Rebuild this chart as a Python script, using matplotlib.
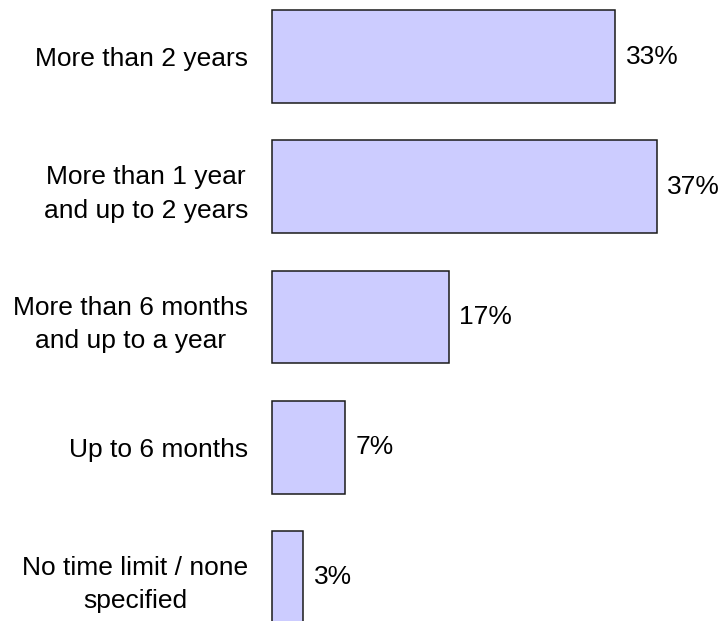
import matplotlib.pyplot as plt
import matplotlib.transforms as mtransforms

# Data
categories = ['More than 2 years',
              'More than 1 year\nand up to 2 years',
              'More than 6 months\nand up to a year',
              'Up to 6 months',
              'No time limit / none\nspecified']
values = [33, 37, 17, 7, 3]
value_labels = ['33%', '37%', '17%', '7%', '3%']

plt.rcParams['font.family'] = ['Liberation Sans', 'DejaVu Sans']

fig = plt.figure(figsize=(7.25, 6.21), dpi=100)
ax = fig.add_axes([0, 0, 1, 1])

pos = list(range(len(categories)))
ax.barh(pos, values, height=0.715, color='#CCCCFF', edgecolor='#1a1a1a', linewidth=1.1)

for p, v, lab in zip(pos, values, value_labels):
    ax.annotate(lab, (v, p), xytext=(7.5, 0), textcoords='offset points',
                va='center', ha='left', fontsize=19)

ax.set_yticks(pos)
ax.set_yticklabels(categories, fontsize=19)
for lbl in ax.get_yticklabels():
    lbl.set_multialignment('center')
    lbl.set_linespacing(1.5)
ax.tick_params(axis='y', length=0, pad=0)
ax.set_xticks([])

# tick labels sit inside the axes area, shift them right
offset = mtransforms.ScaledTranslation(248 / 100, 0, fig.dpi_scale_trans)
for lbl in ax.get_yticklabels():
    lbl.set_transform(lbl.get_transform() + offset)

ax.set_xlim(-272 / 10.4, (725 - 272) / 10.4)
ax.set_ylim(4.338, -0.438)
for s in ax.spines.values():
    s.set_visible(False)

fig.savefig('out.png', dpi=100)
